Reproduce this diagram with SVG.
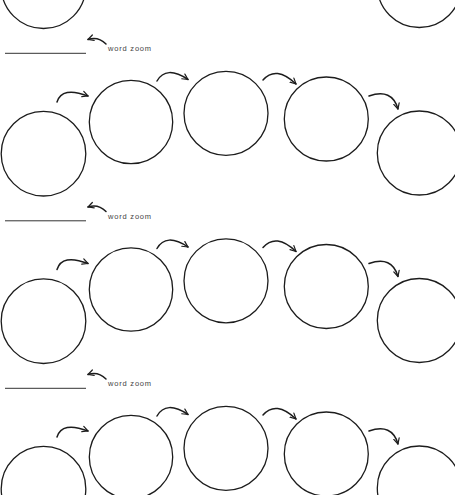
<svg xmlns="http://www.w3.org/2000/svg" width="455" height="495" viewBox="0 0 455 495">
<defs>
<style>
.node{fill:none;stroke:#1c1c1c;stroke-width:1.3}
.conn{fill:none;stroke:#1c1c1c;stroke-width:1.5;stroke-linecap:round;marker-end:url(#ah)}
.lbl{font-family:"Liberation Sans",Arial,sans-serif;font-size:7.5px;letter-spacing:0.8px;fill:#444}
.rule{stroke:#333;stroke-width:1}
</style>
<marker id="ah" viewBox="-8 -5 10 10" markerWidth="8" markerHeight="8" markerUnits="userSpaceOnUse" refX="0" refY="0" orient="auto">
<path d="M-7,-3.5 L0,0 L-7,3.5" fill="none" stroke="#1c1c1c" stroke-width="1.5" stroke-linecap="round" stroke-linejoin="round"/>
</marker>
</defs>
<rect width="455" height="495" fill="#fff"/>

<g id="band0" transform="translate(0,-167.5)">
<g id="b0-c1"><circle class="node" cx="43.5" cy="153.7" r="42.3"/></g>
<g id="b0-c5"><circle class="node" cx="419.3" cy="153" r="42"/></g>
</g>

<g id="band1">
<g id="b1-label"><line class="rule" x1="5" y1="53.3" x2="86" y2="53.3"/><text class="lbl" x="108" y="51">word zoom</text></g>
<g id="b1-c1"><circle class="node" cx="43.5" cy="153.7" r="42.3"/></g>
<g id="b1-c2"><circle class="node" cx="131" cy="122" r="41.7"/></g>
<g id="b1-c3"><circle class="node" cx="226" cy="113.3" r="42"/></g>
<g id="b1-c4"><circle class="node" cx="326.3" cy="119" r="42"/></g>
<g id="b1-c5"><circle class="node" cx="419.3" cy="153" r="42"/></g>
</g>

<g id="band2" transform="translate(0,167.5)">
<g id="b2-label"><line class="rule" x1="5" y1="53.3" x2="86" y2="53.3"/><text class="lbl" x="108" y="51">word zoom</text></g>
<g id="b2-c1"><circle class="node" cx="43.5" cy="153.7" r="42.3"/></g>
<g id="b2-c2"><circle class="node" cx="131" cy="122" r="41.7"/></g>
<g id="b2-c3"><circle class="node" cx="226" cy="113.3" r="42"/></g>
<g id="b2-c4"><circle class="node" cx="326.3" cy="119" r="42"/></g>
<g id="b2-c5"><circle class="node" cx="419.3" cy="153" r="42"/></g>
</g>

<g id="band3" transform="translate(0,335)">
<g id="b3-label"><line class="rule" x1="5" y1="53.3" x2="86" y2="53.3"/><text class="lbl" x="108" y="51">word zoom</text></g>
<g id="b3-c1"><circle class="node" cx="43.5" cy="153.7" r="42.3"/></g>
<g id="b3-c2"><circle class="node" cx="131" cy="122" r="41.7"/></g>
<g id="b3-c3"><circle class="node" cx="226" cy="113.3" r="42"/></g>
<g id="b3-c4"><circle class="node" cx="326.3" cy="119" r="42"/></g>
<g id="b3-c5"><circle class="node" cx="419.3" cy="153" r="42"/></g>
</g>

<g id="connectors">
<g id="conn-band1">
<path class="conn" d="M106,44 Q98,36 88,39.5"/>
<path class="conn" d="M57,102 Q62,86 88,96"/>
<path class="conn" d="M157,81 Q166,65 188,79.5"/>
<path class="conn" d="M263,80 Q276,65 296,84"/>
<path class="conn" d="M369,96 Q392,88 398,109"/>
</g>
<g id="conn-band2" transform="translate(0,167.5)">
<path class="conn" d="M106,44 Q98,36 88,39.5"/>
<path class="conn" d="M57,102 Q62,86 88,96"/>
<path class="conn" d="M157,81 Q166,65 188,79.5"/>
<path class="conn" d="M263,80 Q276,65 296,84"/>
<path class="conn" d="M369,96 Q392,88 398,109"/>
</g>
<g id="conn-band3" transform="translate(0,335)">
<path class="conn" d="M106,44 Q98,36 88,39.5"/>
<path class="conn" d="M57,102 Q62,86 88,96"/>
<path class="conn" d="M157,81 Q166,65 188,79.5"/>
<path class="conn" d="M263,80 Q276,65 296,84"/>
<path class="conn" d="M369,96 Q392,88 398,109"/>
</g>
</g>
</svg>
